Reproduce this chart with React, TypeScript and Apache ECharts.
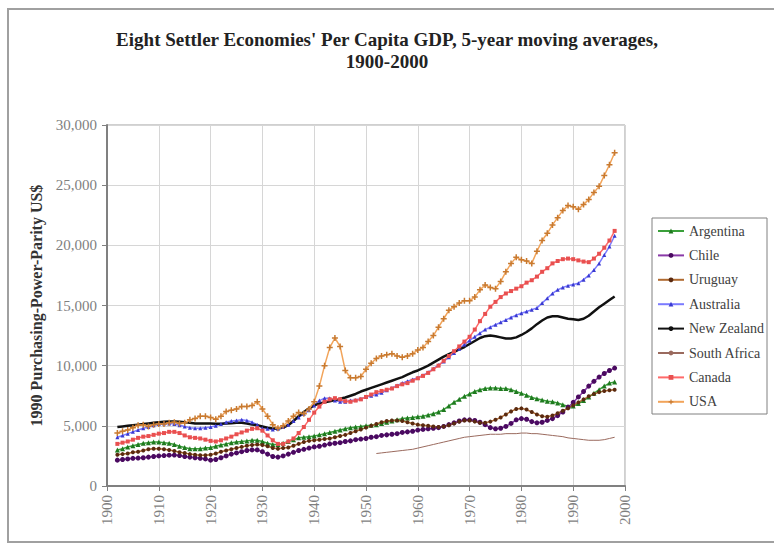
import React, { useEffect, useRef } from "react";
import * as echarts from "echarts";

const START_YEAR = 1902;
const SA_START_YEAR = 1952;
const xTicks = [1900, 1910, 1920, 1930, 1940, 1950, 1960, 1970, 1980, 1990, 2000];

const argentina = [
  3000, 3100, 3250, 3350, 3450, 3550, 3600, 3650,
  3650, 3600, 3550, 3450, 3300, 3200, 3100, 3100, 3100, 3150,
  3200, 3300, 3400, 3500, 3600, 3650, 3700, 3750, 3800, 3800,
  3700, 3550, 3450, 3450, 3550, 3700, 3850, 4000, 4050, 4100,
  4150, 4250, 4350, 4450, 4550, 4650, 4750, 4850, 4900, 4950,
  5000, 5050, 5100, 5200, 5300, 5400, 5500, 5600, 5650, 5700,
  5750, 5800, 5900, 6000, 6150, 6350, 6650, 6950, 7200, 7450,
  7650, 7850, 8000, 8100, 8150, 8150, 8100, 8100, 8000, 7850,
  7700, 7550, 7350, 7250, 7150, 7050, 7000, 6900, 6750, 6600,
  6650, 6850, 7100, 7400, 7700, 8000, 8300, 8550, 8650,
];
const chile = [
  2150, 2200, 2250, 2300, 2320, 2350, 2400, 2450,
  2500, 2530, 2560, 2570, 2530, 2450, 2400, 2350, 2300, 2250,
  2150, 2200, 2350, 2500, 2650, 2750, 2850, 2950, 3000, 3000,
  2850, 2650, 2450, 2400, 2500, 2650, 2800, 2950, 3050, 3150,
  3250, 3300, 3400, 3500, 3550, 3600, 3700, 3750, 3850, 3900,
  3950, 4050, 4100, 4200, 4250, 4300, 4350, 4450, 4500, 4550,
  4650, 4700, 4750, 4800, 4850, 4950, 5100, 5250, 5400, 5500,
  5500, 5450, 5300, 5100, 4850, 4750, 4800, 4950, 5200, 5500,
  5600, 5550, 5350, 5250, 5300, 5450, 5600, 5850, 6150, 6550,
  6950, 7400, 7850, 8300, 8700, 9050, 9350, 9600, 9800,
];
const uruguay = [
  2600, 2650, 2700, 2800, 2850, 2950, 3050, 3100,
  3100, 3050, 3000, 2900, 2800, 2750, 2650, 2600, 2550, 2550,
  2600, 2700, 2850, 2950, 3050, 3150, 3250, 3350, 3400, 3450,
  3400, 3300, 3150, 3100, 3150, 3200, 3350, 3500, 3650, 3750,
  3800, 3850, 3900, 3950, 4050, 4150, 4250, 4400, 4550, 4700,
  4850, 5000, 5150, 5300, 5400, 5450, 5450, 5400, 5300, 5200,
  5100, 5050, 5000, 4950, 4900, 4950, 5050, 5200, 5350, 5450,
  5450, 5350, 5250, 5250, 5350, 5500, 5700, 5950, 6200, 6400,
  6450, 6350, 6150, 5950, 5800, 5750, 5850, 6050, 6250, 6450,
  6700, 6950, 7200, 7450, 7650, 7800, 7900, 7950, 8000,
];
const australia = [
  4050, 4200, 4350, 4500, 4650, 4800, 4900, 5050,
  5150, 5200, 5200, 5150, 5050, 4950, 4850, 4800, 4800, 4850,
  4900, 5000, 5150, 5300, 5400, 5450, 5500, 5450, 5300, 5100,
  4800, 4750, 4700, 4750, 4900, 5100, 5400, 5700, 6000, 6300,
  6700, 7100, 7300, 7300, 7100, 7000, 7000, 7100, 7150, 7250,
  7400, 7500, 7600, 7750, 7950, 8150, 8350, 8550, 8700, 8850,
  9000, 9200, 9450, 9750, 10050, 10350, 10700, 11050, 11400, 11750,
  12100, 12400, 12700, 13000, 13200, 13400, 13600, 13800, 14000, 14200,
  14350, 14500, 14650, 14800, 15200, 15600, 16000, 16300, 16500, 16650,
  16750, 16850, 17150, 17500, 17950, 18500, 19200, 19900, 20800,
];
const newZealand = [
  4900, 4950, 5000, 5050, 5100, 5150, 5200, 5250,
  5300, 5330, 5350, 5350, 5330, 5300, 5250, 5200, 5200, 5200,
  5200, 5180, 5180, 5200, 5220, 5250, 5250, 5200, 5100, 5050,
  4950, 4850, 4780, 4780, 4850, 5050, 5400, 5800, 6150, 6450,
  6700, 6850, 6950, 7050, 7150, 7250, 7350, 7500, 7650, 7850,
  8000, 8150, 8300, 8450, 8600, 8750, 8900, 9050, 9250, 9450,
  9600, 9800, 10000, 10250, 10500, 10750, 10950, 11150, 11350, 11550,
  11800, 12050, 12300, 12450, 12500, 12450, 12350, 12250, 12250, 12350,
  12550, 12800, 13100, 13450, 13750, 14000, 14100, 14100, 14000, 13900,
  13850, 13800, 13900, 14150, 14500, 14850, 15150, 15450, 15750,
];
const southAfrica = [
  2700, 2750, 2800, 2850, 2900, 2950, 3000, 3050,
  3150, 3250, 3350, 3450, 3550, 3650, 3750, 3850, 3950, 4050,
  4100, 4150, 4200, 4250, 4300, 4300, 4300, 4350, 4350, 4350,
  4400, 4400, 4350, 4350, 4300, 4250, 4200, 4150, 4100, 4000,
  3950, 3900, 3850, 3800, 3800, 3800, 3850, 3950, 4050,
];
const canada = [
  3500, 3600, 3700, 3850, 4000, 4100, 4150, 4250,
  4350, 4400, 4500, 4500, 4400, 4200, 4050, 4000, 3950, 3850,
  3750, 3700, 3800, 3950, 4100, 4300, 4450, 4600, 4750, 4800,
  4600, 4200, 3800, 3500, 3500, 3700, 3950, 4400, 4900, 5500,
  6100, 6600, 7000, 7200, 7300, 7200, 7050, 7000, 7100, 7200,
  7400, 7600, 7800, 7900, 8000, 8100, 8300, 8450, 8550, 8750,
  8950, 9150, 9400, 9700, 10000, 10400, 10800, 11200, 11600, 12000,
  12400, 13000, 13700, 14300, 14900, 15300, 15700, 16000, 16200, 16400,
  16600, 16900, 17100, 17400, 17800, 18100, 18500, 18700, 18850, 18900,
  18850, 18750, 18650, 18600, 18900, 19300, 19800, 20400, 21200,
];
const usa = [
  4400, 4550, 4650, 4850, 5050, 5100, 4950, 5100,
  5150, 5150, 5250, 5300, 5200, 5250, 5500, 5600, 5800, 5800,
  5700, 5550, 5800, 6200, 6300, 6400, 6600, 6600, 6700, 7000,
  6400, 5800, 5100, 4800, 5000, 5400, 5800, 6100, 6000, 6400,
  7000, 8300, 10000, 11500, 12300, 11600, 9600, 9000, 9000, 9100,
  9700, 10200, 10600, 10800, 10900, 11000, 10800, 10700, 10800, 11000,
  11300, 11500, 12000, 12500, 13200, 13900, 14600, 14900, 15200, 15400,
  15400, 15700, 16300, 16700, 16500, 16400, 17000, 17800, 18500, 19000,
  18800, 18700, 18500, 19500, 20400, 21000, 21700, 22300, 22900, 23300,
  23200, 23000, 23400, 23800, 24400, 24900, 25800, 26700, 27700,
];

const pair = (arr: number[], start: number) => arr.map((v, i) => [start + i, v]);

const FONT = "Liberation Serif";
const PLUS = "path://M3,0H5V3H8V5H5V8H3V5H0V3H3Z";

function lineSeries(name: string, data: number[], start: number, lineColor: string, markColor: string, symbol: string, size: number, width = 1.5) {
  return {
    type: "line",
    name,
    data: pair(data, start),
    showAllSymbol: true,
    symbol,
    symbolSize: size,
    lineStyle: { color: lineColor, width },
    itemStyle: { color: markColor, borderWidth: 0 },
    emphasis: { disabled: true },
  };
}

export default function App() {
  const ref = useRef<HTMLDivElement>(null);
  useEffect(() => {
    document.body.style.margin = "0";
    const chart = echarts.init(ref.current!, null, { renderer: "svg" });
    const option: any = {
      animation: false,
      backgroundColor: "#ffffff",
      title: {
        text: "Eight Settler Economies' Per Capita GDP, 5-year moving averages,\n1900-2000",
        left: "center",
        top: 23,
        textStyle: { fontFamily: FONT, fontSize: 19, fontWeight: "bold", color: "#222", lineHeight: 22 },
      },
      graphic: [
        { type: "rect", silent: true, z: 0, shape: { x: 8, y: 9, width: 800, height: 533 }, style: { fill: "none", stroke: "#a0a0a0", lineWidth: 2 } },
        { type: "rect", silent: true, z: 0, shape: { x: 652, y: 218, width: 115, height: 196 }, style: { fill: "#fff", stroke: "#808080", lineWidth: 1 } },
      ],
      legend: {
        orient: "vertical",
        left: 657,
        top: 223,
        padding: 0,
        itemWidth: 26,
        itemHeight: 6,
        itemGap: 8.4,
        textStyle: { fontFamily: FONT, fontSize: 14, color: "#404040", lineHeight: 16 },
        data: ["Argentina", "Chile", "Uruguay", "Australia", "New Zealand", "South Africa", "Canada", "USA"],
      },
      grid: {
        left: 107, top: 125, right: 149, bottom: 59,
        containLabel: false, outerBoundsMode: "none",
        show: true, borderColor: "#a0a0a0", borderWidth: 1,
      },
      xAxis: {
        type: "value",
        min: 1900, max: 2000, interval: 10,
        axisLine: { show: true, lineStyle: { color: "#808080", width: 2 } },
        axisTick: { show: true, length: 5, lineStyle: { color: "#808080" } },
        splitLine: { show: true, lineStyle: { color: "#d6d6d6", width: 1 } },
        axisLabel: {
          rotate: 90, margin: 9, color: "#7f7f7f", fontFamily: FONT, fontSize: 15,
          formatter: (v: number) => (xTicks.includes(v) ? String(v) : ""),
        },
      },
      yAxis: {
        type: "value",
        min: 0, max: 30000, interval: 5000,
        name: "1990 Purchasing-Power-Parity US$",
        nameLocation: "middle",
        nameGap: 63,
        nameRotate: 90,
        nameTextStyle: { fontFamily: FONT, fontSize: 16, fontWeight: "bold", color: "#333" },
        axisLine: { show: true, lineStyle: { color: "#808080", width: 2 } },
        axisTick: { show: true, length: 5, lineStyle: { color: "#808080" } },
        splitLine: { show: true, lineStyle: { color: "#d6d6d6", width: 1 } },
        axisLabel: {
          margin: 10, color: "#7f7f7f", fontFamily: FONT, fontSize: 15,
          formatter: (v: number) => v.toLocaleString("en-US"),
        },
      },
      series: [
        lineSeries("Argentina", argentina, START_YEAR, "#3aa03a", "#1f7a1f", "triangle", 5),
        lineSeries("Chile", chile, START_YEAR, "#8a3aa8", "#4a0a60", "circle", 5),
        lineSeries("Uruguay", uruguay, START_YEAR, "#b06a30", "#5a2a10", "circle", 4),
        lineSeries("Australia", australia, START_YEAR, "#7b7bff", "#3a3ad0", "triangle", 4),
        { ...lineSeries("New Zealand", newZealand, START_YEAR, "#111111", "#111111", "none", 0, 2.5), symbol: "none" },
        { ...lineSeries("South Africa", southAfrica, SA_START_YEAR, "#9a6a5e", "#9a6a5e", "none", 0, 1), symbol: "none" },
        lineSeries("Canada", canada, START_YEAR, "#ff6a6a", "#e85050", "rect", 4),
        lineSeries("USA", usa, START_YEAR, "#f2a45a", "#c87a30", PLUS, 6),
      ],
    };
    chart.setOption(option);
    return () => chart.dispose();
  }, []);
  return <div ref={ref} style={{ width: 774, height: 545 }} />;
}
